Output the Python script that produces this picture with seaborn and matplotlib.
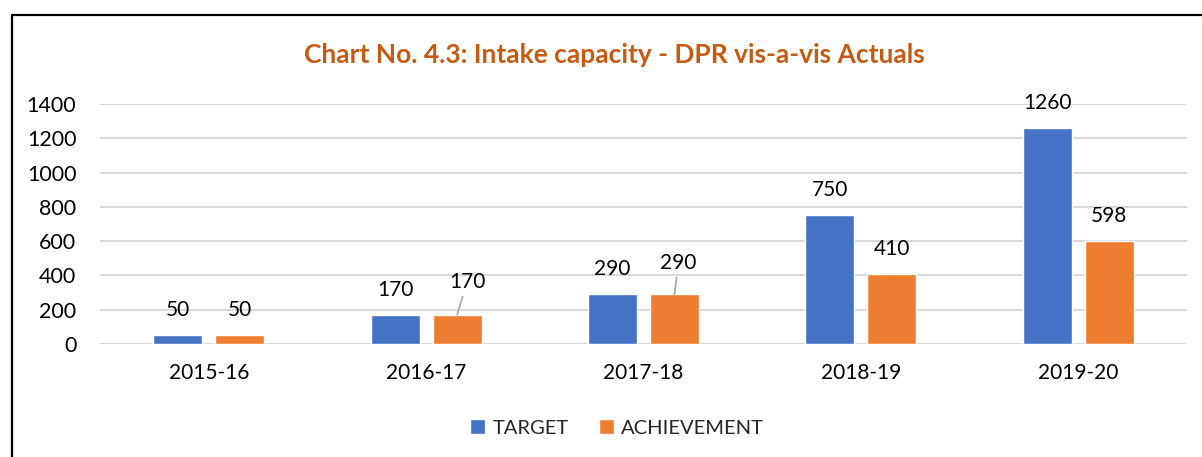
import matplotlib
matplotlib.use("Agg")
import matplotlib.pyplot as plt
from matplotlib.lines import Line2D
import seaborn as sns
import pandas as pd

years = ["2015-16", "2016-17", "2017-18", "2018-19", "2019-20"]
target = [50, 170, 290, 750, 1260]
achievement = [50, 170, 290, 410, 598]
series_names = ["TARGET", "ACHIEVEMENT"]
yticks = [0, 200, 400, 600, 800, 1000, 1200, 1400]
title = "Chart No. 4.3: Intake capacity - DPR vis-a-vis Actuals"

colors = {"TARGET": "#4472C4", "ACHIEVEMENT": "#ED7D31"}

df = pd.DataFrame({
    "year": years * 2,
    "value": target + achievement,
    "series": [series_names[0]] * len(years) + [series_names[1]] * len(years),
})

sns.set_theme(style="white")
plt.rcParams["font.family"] = ["Lato", "DejaVu Sans"]

fig = plt.figure(figsize=(12.02, 4.57), dpi=100)
ax = fig.add_axes([100 / 1202, 1 - 344 / 457, (1187 - 100) / 1202, (344 - 104) / 457])

sns.barplot(data=df, x="year", y="value", hue="series", palette=colors,
            width=0.57, gap=0.21, ax=ax, legend=True, saturation=1)

ax.set_ylim(0, 1400)
ax.set_xlim(-0.5, len(years) - 0.5)
ax.set_yticks(yticks)
ax.set_yticklabels([str(t) for t in yticks], fontsize=15.5, color="#000000")
ax.tick_params(axis="x", labelsize=15, colors="#000000", pad=14)
ax.tick_params(axis="y", pad=17, length=0)
ax.tick_params(axis="x", length=0)
ax.set_xlabel("")
ax.set_ylabel("")
ax.grid(axis="y", color="#D9D9D9", linewidth=1.5)
ax.set_axisbelow(True)
for s in ax.spines.values():
    s.set_visible(False)

# data labels
special = {("ACHIEVEMENT", 1): (7.2, 23.8), ("ACHIEVEMENT", 2): (2.9, 22.8)}
vals = {"TARGET": target, "ACHIEVEMENT": achievement}
for cont, name in zip(ax.containers, series_names):
    for i, bar in enumerate(cont):
        x = bar.get_x() + bar.get_width() / 2
        h = bar.get_height()
        if (name, i) in special:
            dx, dy = special[(name, i)]
            ax.annotate(str(vals[name][i]), xy=(x, h), xytext=(dx, dy),
                        textcoords="offset points", ha="center", va="center",
                        fontsize=15, color="#000000",
                        arrowprops=dict(arrowstyle="-", color="#A6A6A6", lw=1.2,
                                        shrinkA=1, shrinkB=0))
        else:
            ax.annotate(str(vals[name][i]), xy=(x, h), xytext=(0, 18),
                        textcoords="offset points", ha="center", va="center",
                        fontsize=15, color="#000000")

handles, labels = ax.get_legend_handles_labels()
ax.get_legend().remove()
fig.legend(handles, labels, loc="center", bbox_to_anchor=(617 / 1202, 1 - 428 / 457),
           ncol=2, frameon=False, fontsize=14.5, handlelength=0.75, handleheight=0.75,
           columnspacing=1.5, handletextpad=0.35)

fig.text(614 / 1202, 1 - 55 / 457, title, ha="center", va="center",
         fontsize=19, fontweight="bold", color="#C55A11")

# chart frame (partially visible)
fig.add_artist(Line2D([12 / 1202, 1.0], [1 - 15 / 457, 1 - 15 / 457],
                      transform=fig.transFigure, color="black", lw=1.6))
fig.add_artist(Line2D([12 / 1202, 12 / 1202], [1 - 15 / 457, 0.0],
                      transform=fig.transFigure, color="black", lw=1.6))

fig.savefig("out.png", dpi=100, facecolor="white")
